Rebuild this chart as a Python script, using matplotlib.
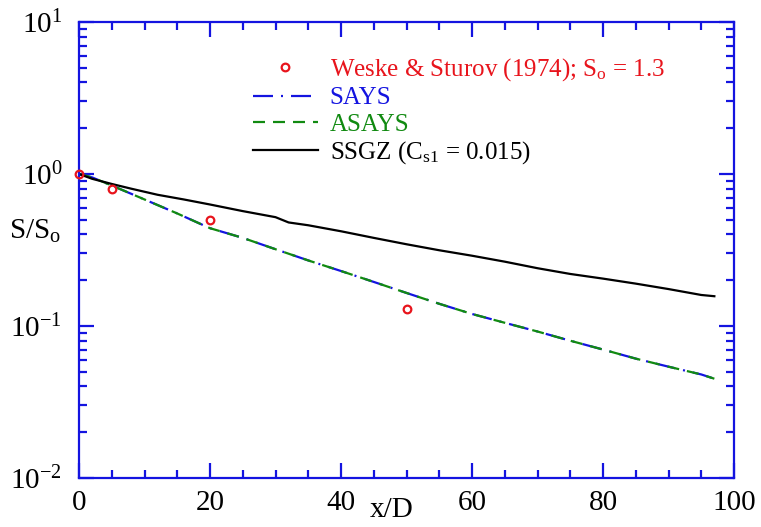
import numpy as np
import matplotlib
matplotlib.use('Agg')
import matplotlib.pyplot as plt
from matplotlib.ticker import MultipleLocator, LogLocator, NullFormatter, FixedLocator

plt.rcParams['font.family'] = 'Liberation Serif'
plt.rcParams['mathtext.fontset'] = 'custom'
plt.rcParams['mathtext.rm'] = 'Liberation Serif'
plt.rcParams['mathtext.it'] = 'Liberation Serif'

# Weske & Sturov (1974) measurements
exp_x = [0, 5, 20, 50]
exp_y = [1.0, 0.80, 0.50, 0.13]

# SAYS / ASAYS model predictions (nearly identical)
says_x = [0, 2, 5, 8, 10, 15, 20, 25, 30, 35, 40, 45, 50, 55, 60, 65, 70, 75, 80, 85, 90, 95, 97]
says_y = [1.0, 0.95, 0.84, 0.74, 0.68, 0.55, 0.44, 0.38, 0.32, 0.27, 0.23, 0.195, 0.165,
          0.14, 0.12, 0.105, 0.092, 0.08, 0.07, 0.061, 0.054, 0.048, 0.045]
asays_x = says_x
asays_y = [1.0, 0.95, 0.84, 0.74, 0.68, 0.55, 0.44, 0.38, 0.32, 0.27, 0.23, 0.195, 0.165,
           0.14, 0.12, 0.105, 0.092, 0.08, 0.07, 0.061, 0.054, 0.048, 0.045]

# SSGZ model
ssgz_x = [0, 2, 5, 8, 12, 16, 20, 25, 30, 32, 35, 40, 45, 50, 55, 60, 65, 70, 75, 80, 85, 90, 95, 97]
ssgz_y = [1.0, 0.93, 0.86, 0.80, 0.73, 0.68, 0.63, 0.57, 0.52, 0.48, 0.46, 0.42, 0.38, 0.345,
          0.315, 0.29, 0.265, 0.24, 0.22, 0.205, 0.19, 0.175, 0.16, 0.157]

fig = plt.figure(figsize=(7.61, 5.27), dpi=100)
ax = fig.add_axes([79/761, 49/527, 655/761, 456/527])

ax.plot(exp_x, exp_y, 'o', mfc='none', mec='#e8141c', ms=5.5, mew=1.6,
        label=r'Weske & Sturov (1974); S$_\mathrm{o}$ = 1.3', clip_on=False, zorder=5)
ax.plot(says_x, says_y, color='#1414e0', lw=1.6, dashes=(9, 3.6, 0.9, 3.6),
        label='SAYS')
ax.plot(asays_x, asays_y, color='#118a11', lw=1.6, dashes=(5.4, 3.6),
        label='ASAYS')
ax.plot(ssgz_x, ssgz_y, color='black', lw=1.6,
        label=r'SSGZ (C$_\mathrm{s1}$ = 0.015)')

ax.set_yscale('log')
ax.set_xlim(0, 100)
ax.set_ylim(1e-2, 1e1)
ax.xaxis.set_major_locator(MultipleLocator(20))
ax.xaxis.set_minor_locator(MultipleLocator(5))
ax.yaxis.set_major_locator(FixedLocator([1e-2, 1e-1, 1e0, 1e1]))
ax.yaxis.set_minor_locator(LogLocator(base=10, subs=np.arange(2, 10)))
ax.yaxis.set_minor_formatter(NullFormatter())
ax.set_yticklabels([r'10$^{-2}$', r'10$^{-1}$', r'10$^{0}$', r'10$^{1}$'])

blue = '#1414e0'
for s in ax.spines.values():
    s.set_color(blue)
    s.set_linewidth(1.6)
ax.tick_params(which='both', direction='in', top=True, right=True, color=blue, width=1.6,
               labelsize=21)
ax.tick_params(which='major', length=11)
ax.tick_params(which='minor', length=6)
ax.tick_params(axis='y', pad=12)
ax.tick_params(axis='x', pad=9)

ax.set_xlabel('x/D', fontsize=21)
ax.xaxis.set_label_coords(0.478, -0.07)
ax.xaxis.label.set_va('center')
ax.set_ylabel(r'S/S$_\mathrm{o}$', fontsize=21, rotation=0)
ax.yaxis.set_label_coords(-0.067, 0.54)
ax.yaxis.label.set_va('center')
ax.yaxis.label.set_ha('center')

leg = ax.legend(loc='upper left', bbox_to_anchor=(0.265, 0.925), frameon=False, fontsize=18,
                handlelength=2.6, handletextpad=0.48, labelspacing=0.15, borderpad=0,
                borderaxespad=0)
for txt, c in zip(leg.get_texts(), ['#e8141c', blue, '#118a11', 'black']):
    txt.set_color(c)

fig.savefig('out.png', dpi=100)
